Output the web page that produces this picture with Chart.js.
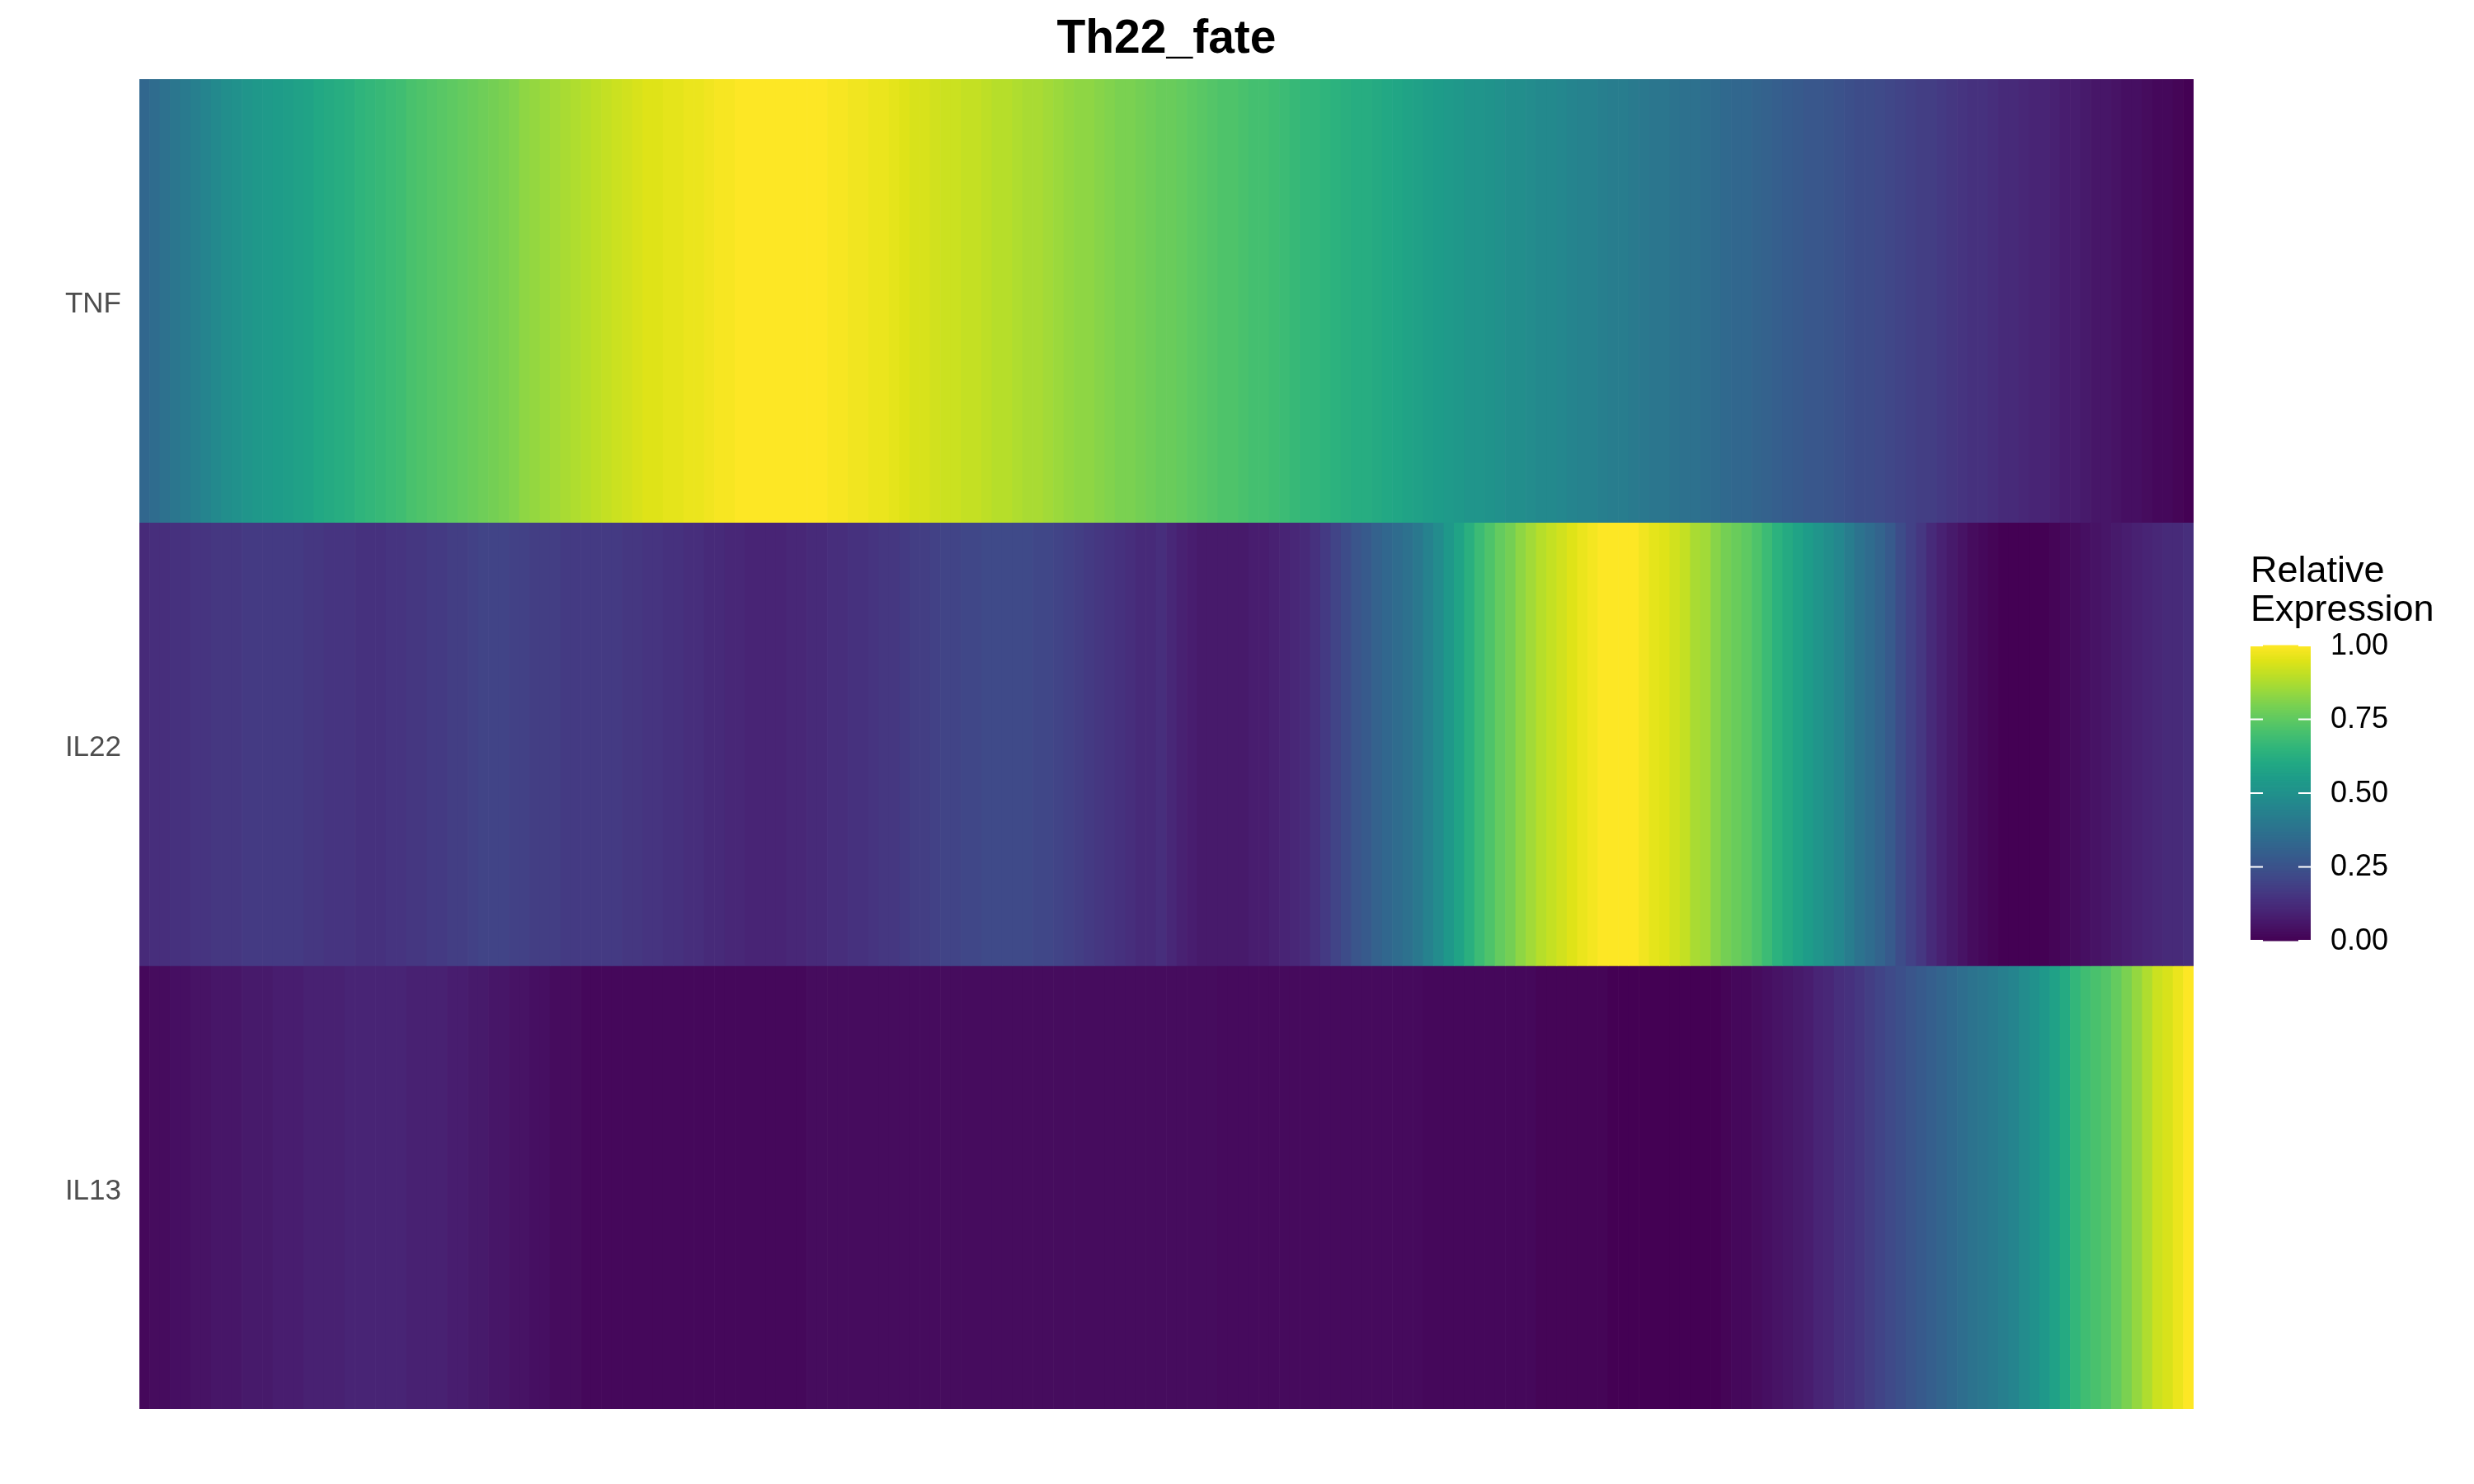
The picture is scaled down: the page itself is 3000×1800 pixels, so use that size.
<!DOCTYPE html>
<html>
<head>
<meta charset="utf-8">
<script src="https://cdn.jsdelivr.net/npm/chart.js@4/dist/chart.umd.min.js"></script>
<style>
html,body{margin:0;padding:0;background:#fff;}
canvas{display:block;}
</style>
</head>
<body>
<canvas id="c" width="3000" height="1800"></canvas>
<script>
const chartTitle = 'Th22_fate';
const genes = ['TNF', 'IL22', 'IL13'];
const legendTitle = ['Relative', 'Expression'];
const legendBreaks = [0, 0.25, 0.5, 0.75, 1];
const legendLabels = ['0.00', '0.25', '0.50', '0.75', '1.00'];

const tnf = [
0.33,0.35,0.37,0.39,0.41,0.43,0.45,0.47,0.49,0.50,
0.52,0.53,0.54,0.55,0.56,0.57,0.58,0.60,0.61,0.62,
0.63,0.65,0.66,0.67,0.68,0.69,0.71,0.72,0.73,0.74,
0.75,0.76,0.77,0.78,0.79,0.80,0.81,0.83,0.84,0.85,
0.86,0.87,0.88,0.89,0.90,0.91,0.92,0.93,0.94,0.95,
0.95,0.96,0.96,0.97,0.97,0.98,0.99,0.99,1.00,1.00,
1.00,1.00,1.00,1.00,1.00,1.00,1.00,0.99,0.99,0.98,
0.98,0.97,0.97,0.96,0.95,0.94,0.94,0.93,0.92,0.92,
0.91,0.91,0.90,0.89,0.89,0.88,0.87,0.87,0.86,0.85,
0.84,0.83,0.83,0.82,0.81,0.80,0.80,0.79,0.78,0.77,
0.77,0.76,0.75,0.74,0.73,0.72,0.72,0.71,0.70,0.70,
0.69,0.68,0.67,0.66,0.66,0.65,0.64,0.63,0.62,0.62,
0.61,0.60,0.59,0.58,0.57,0.56,0.55,0.54,0.53,0.52,
0.52,0.51,0.50,0.49,0.49,0.48,0.47,0.47,0.46,0.45,
0.44,0.44,0.43,0.42,0.42,0.41,0.40,0.39,0.39,0.38,
0.37,0.37,0.36,0.35,0.34,0.33,0.33,0.32,0.31,0.30,
0.29,0.28,0.27,0.27,0.26,0.25,0.24,0.23,0.23,0.22,
0.21,0.20,0.19,0.18,0.18,0.17,0.16,0.15,0.14,0.14,
0.13,0.12,0.12,0.11,0.10,0.10,0.09,0.08,0.08,0.07,
0.06,0.06,0.05,0.04,0.04,0.03,0.02,0.02,0.01,0.00
];

const il22 = [
0.12,0.13,0.13,0.14,0.14,0.15,0.15,0.16,0.16,0.16,
0.17,0.17,0.17,0.17,0.17,0.17,0.16,0.16,0.15,0.15,
0.15,0.14,0.14,0.14,0.15,0.15,0.16,0.16,0.17,0.17,
0.18,0.18,0.19,0.20,0.20,0.20,0.19,0.19,0.18,0.18,
0.18,0.17,0.17,0.17,0.17,0.17,0.17,0.16,0.16,0.15,
0.15,0.14,0.14,0.13,0.13,0.12,0.12,0.11,0.11,0.10,
0.10,0.10,0.10,0.11,0.11,0.12,0.12,0.13,0.13,0.14,
0.14,0.15,0.16,0.16,0.17,0.18,0.18,0.19,0.20,0.20,
0.21,0.21,0.22,0.22,0.22,0.22,0.22,0.21,0.21,0.20,
0.19,0.18,0.17,0.16,0.15,0.14,0.13,0.12,0.12,0.13,
0.11,0.09,0.08,0.07,0.07,0.07,0.07,0.07,0.08,0.08,
0.09,0.10,0.11,0.12,0.14,0.17,0.20,0.23,0.26,0.28,
0.31,0.33,0.35,0.37,0.40,0.44,0.48,0.53,0.58,0.63,
0.68,0.72,0.76,0.79,0.83,0.86,0.89,0.91,0.93,0.95,
0.97,0.985,1.00,1.00,1.00,1.00,0.98,0.96,0.95,0.93,
0.91,0.87,0.86,0.82,0.79,0.77,0.75,0.72,0.68,0.64,
0.61,0.58,0.55,0.52,0.49,0.46,0.42,0.38,0.35,0.32,
0.28,0.23,0.19,0.16,0.12,0.09,0.07,0.05,0.03,0.02,
0.01,0.00,0.00,0.00,0.00,0.00,0.01,0.02,0.03,0.04,
0.05,0.06,0.07,0.08,0.09,0.10,0.11,0.12,0.12,0.13
];

const il13 = [
0.02,0.03,0.03,0.04,0.04,0.05,0.05,0.06,0.06,0.06,
0.07,0.07,0.07,0.08,0.08,0.08,0.09,0.09,0.09,0.09,
0.10,0.10,0.10,0.10,0.10,0.10,0.09,0.09,0.09,0.09,
0.08,0.08,0.07,0.07,0.06,0.06,0.05,0.05,0.04,0.04,
0.03,0.03,0.03,0.02,0.02,0.02,0.02,0.02,0.02,0.02,
0.02,0.02,0.02,0.02,0.02,0.02,0.02,0.02,0.02,0.02,
0.02,0.02,0.02,0.02,0.02,0.03,0.03,0.03,0.03,0.03,
0.03,0.03,0.03,0.03,0.03,0.03,0.03,0.03,0.03,0.03,
0.03,0.03,0.03,0.03,0.03,0.03,0.03,0.03,0.03,0.03,
0.03,0.03,0.03,0.03,0.03,0.03,0.03,0.03,0.03,0.03,
0.03,0.03,0.03,0.03,0.03,0.025,0.025,0.025,0.025,0.025,
0.025,0.025,0.025,0.025,0.025,0.025,0.025,0.025,0.025,0.025,
0.025,0.025,0.025,0.025,0.025,0.02,0.02,0.02,0.02,0.02,
0.02,0.02,0.02,0.02,0.02,0.02,0.01,0.01,0.01,0.01,
0.01,0.01,0.01,0.00,0.00,0.00,0.00,0.00,0.00,0.00,
0.00,0.00,0.00,0.00,0.01,0.02,0.02,0.03,0.04,0.05,
0.06,0.07,0.08,0.10,0.11,0.13,0.14,0.16,0.18,0.20,
0.22,0.24,0.26,0.28,0.30,0.32,0.34,0.36,0.38,0.39,
0.41,0.43,0.45,0.48,0.50,0.53,0.57,0.61,0.66,0.69,
0.71,0.73,0.76,0.80,0.84,0.88,0.92,0.94,0.97,1.00
];

const seriesByGene = [tnf, il22, il13];
const columns = tnf.map((_, i) => String(i + 1));

// viridis colour map stops
const viridis = ['#440154','#471365','#482475','#463480','#414487','#3b528b','#355f8d','#2f6c8e','#2a788e','#25848e','#21918c','#1e9c89','#22a884','#2fb47c','#44bf70','#5ec962','#7ad151','#9bd93c','#bddf26','#dfe318','#fde725'];
const vRGB = viridis.map(h => [parseInt(h.slice(1,3),16), parseInt(h.slice(3,5),16), parseInt(h.slice(5,7),16)]);
function viridisColor(v) {
  v = Math.max(0, Math.min(1, v));
  const p = v * (vRGB.length - 1);
  const i = Math.min(Math.floor(p), vRGB.length - 2);
  const f = p - i;
  const a = vRGB[i], b = vRGB[i + 1];
  return 'rgb(' + Math.round(a[0] + (b[0]-a[0])*f) + ',' + Math.round(a[1] + (b[1]-a[1])*f) + ',' + Math.round(a[2] + (b[2]-a[2])*f) + ')';
}

const FONT = '"Liberation Sans", Arial, Helvetica, sans-serif';

const datasets = genes.map((g, r) => ({
  label: g,
  data: seriesByGene[r].map(() => [r, r + 1]),
  backgroundColor: seriesByGene[r].map(viridisColor),
  borderWidth: 0,
  barPercentage: 1,
  categoryPercentage: 1,
  grouped: false
}));

const decorPlugin = {
  id: 'decor',
  afterDraw(chart) {
    const ctx = chart.ctx;
    const ca = chart.chartArea;
    ctx.save();
    // title
    ctx.fillStyle = '#000';
    ctx.font = 'bold 57px ' + FONT;
    ctx.textAlign = 'center';
    ctx.textBaseline = 'alphabetic';
    ctx.fillText(chartTitle, (ca.left + ca.right) / 2, 64);

    // colour bar legend
    const bx = 2729, bw = 73, btop = 783, bbot = 1141;
    ctx.font = '45px ' + FONT;
    ctx.textAlign = 'left';
    ctx.fillStyle = '#000';
    ctx.fillText(legendTitle[0], bx, 706);
    ctx.fillText(legendTitle[1], bx, 753);

    const steps = 300;
    const h = (bbot - btop) / steps;
    for (let s = 0; s < steps; s++) {
      const v = (s + 0.5) / steps;
      ctx.fillStyle = viridisColor(v);
      ctx.fillRect(bx, bbot - (s + 1) * h - 0.5, bw, h + 1);
    }
    ctx.strokeStyle = '#ffffff';
    ctx.lineWidth = 2;
    ctx.font = '36px ' + FONT;
    ctx.textBaseline = 'middle';
    legendBreaks.forEach((b, i) => {
      const y = bbot - b * (bbot - btop);
      ctx.beginPath();
      ctx.moveTo(bx, y); ctx.lineTo(bx + 15, y);
      ctx.moveTo(bx + bw - 15, y); ctx.lineTo(bx + bw, y);
      ctx.stroke();
      ctx.fillStyle = '#000';
      ctx.fillText(legendLabels[i], 2826, y + 1);
    });
    ctx.restore();
  }
};

new Chart(document.getElementById('c'), {
  type: 'bar',
  data: { labels: columns, datasets },
  options: {
    responsive: false,
    devicePixelRatio: 1,
    animation: false,
    layout: { padding: { left: 0, top: 96, right: 340, bottom: 91 } },
    plugins: { legend: { display: false }, tooltip: { enabled: false }, title: { display: false } },
    scales: {
      x: { type: 'category', display: false, offset: true, grid: { display: false } },
      y: {
        type: 'linear', min: 0, max: 3, reverse: true,
        grid: { display: false, drawTicks: false },
        border: { display: false },
        afterBuildTicks(scale) { scale.ticks = genes.map((g, i) => ({ value: i + 0.5 })); },
        afterFit(scale) { scale.width = 169; },
        ticks: {
          autoSkip: false,
          padding: 22,
          labelOffset: 5,
          color: '#4d4d4d',
          font: { family: FONT, size: 35 },
          callback(value, index) { return genes[index]; }
        }
      }
    }
  },
  plugins: [decorPlugin]
});
</script>
</body>
</html>
